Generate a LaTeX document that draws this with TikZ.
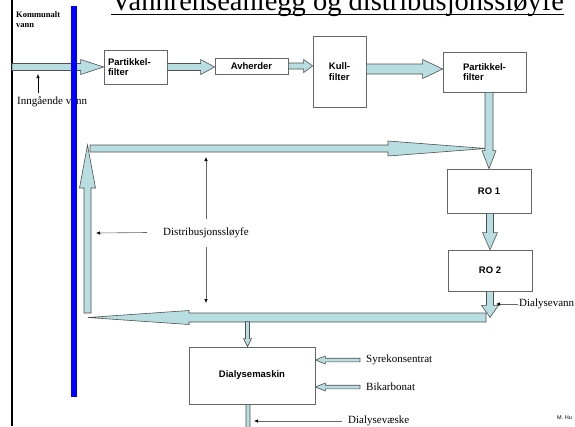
\documentclass[tikz,border=0pt]{standalone}
\usepackage{fontspec}
\setmainfont{Liberation Serif}
\setsansfont{Liberation Sans}
\usetikzlibrary{arrows.meta,calc}

\definecolor{pipeblue}{RGB}{185,222,225}
\definecolor{pipeline}{RGB}{80,80,80}

\tikzset{
  box/.style={draw=black!60,line width=0.7pt,fill=white,inner sep=0pt,
    font=\sffamily\bfseries\fontsize{9.5}{10.5}\selectfont,align=left},
  pipe/.style={fill=pipeblue,draw=pipeline,line width=0.6pt},
  lbl/.style={draw=black!60,line width=0.6pt,-{Latex[length=4pt,width=3.5pt,color=black]}},
  txt/.style={inner sep=0pt,font=\fontsize{11}{12}\selectfont}
}

% block arrow: from, to, half band, half head, head length
\newcommand{\pipearrow}[5]{%
  \coordinate (h) at ($(#2)!#5!(#1)$);
  \filldraw[pipe] ($(#1)!#3!90:(#2)$) -- ($(h)!#3!-90:(#1)$) -- ($(h)!#4!-90:(#1)$)
    -- (#2) -- ($(h)!#4!90:(#1)$) -- ($(h)!#3!90:(#1)$) -- ($(#1)!#3!-90:(#2)$) -- cycle;
}

\begin{document}
\begin{tikzpicture}[x=1pt,y=-1pt]
\useasboundingbox (0,0) rectangle (575,426);
\clip (0,0) rectangle (575,426);

\node[anchor=base west,inner sep=0pt,font=\fontsize{28.5}{30}\selectfont] (title) at (111,10) {Vannrenseanlegg og distribusjonssløyfe};
\draw[line width=1.2pt] ([yshift=-4.5pt]title.base west) -- ([yshift=-4.5pt]title.base east);

\draw[line width=2pt] (12,0) -- (12,426);

\node[anchor=north west,inner sep=0pt,align=left,font=\bfseries\fontsize{8.5}{10}\selectfont] (kom) at (16,11) {Kommunalt\\vann};

% boxes
\node[box,minimum width=63pt,minimum height=34pt,text width=55pt] (pfA) at (135.5,67) {Partikkel-\\filter};
\node[box,minimum width=73pt,minimum height=16pt] (avh) at (251.5,66) {Avherder};
\node[box,minimum width=53pt,minimum height=71pt] (kull) at (339.5,71.5) {Kull-\\filter};
\node[box,minimum width=83pt,minimum height=40pt] (pfB) at (484.5,72) {Partikkel-\\filter};
\node[box,minimum width=84pt,minimum height=44pt] (ro1) at (489,191) {RO 1};
\node[box,minimum width=84pt,minimum height=41pt] (ro2) at (490,270.5) {RO 2};
\node[box,minimum width=126pt,minimum height=57pt] (dm) at (252,375.5) {Dialysemaskin};

% treatment line
\coordinate (inA) at (12,67);
\pipearrow{inA}{pfA.west}{3.5pt}{7.5pt}{23pt}
\coordinate (avhIn) at (pfA.east -| avh.west);
\pipearrow{pfA.east}{avhIn}{3.5pt}{7.5pt}{14pt}
\coordinate (kullIn) at (avh.east -| kull.west);
\pipearrow{avh.east}{kullIn}{3pt}{6.5pt}{9pt}
\coordinate (kullOut) at ([yshift=2.5pt]kull.east);
\coordinate (pfBIn) at (kullOut -| pfB.west);
\pipearrow{kullOut}{pfBIn}{5pt}{9.5pt}{20pt}

% loop
\coordinate (loopR) at (486,317.5);
\coordinate (loopL) at (88,317.5);
\pipearrow{loopR}{loopL}{4.5pt}{7pt}{101pt}
\coordinate (upA) at (87.5,313);
\coordinate (upB) at (87.5,145);
\pipearrow{upA}{upB}{3.5pt}{8pt}{43pt}
\coordinate (topL) at (90,148.5);
\coordinate (topR) at (486,148.5);
\pipearrow{topL}{topR}{3.5pt}{7.5pt}{98pt}

\coordinate (pfBOut) at (pfB.south -| ro1.north);
\pipearrow{pfBOut}{ro1.north}{4pt}{7pt}{18pt}
\coordinate (ro2In) at (ro1.south -| ro2.north);
\pipearrow{ro2In}{ro2.north}{3.5pt}{7.5pt}{17pt}
\coordinate (dvTip) at ([yshift=-26pt]ro2.south);
\pipearrow{ro2.south}{dvTip}{3.5pt}{8.5pt}{12pt}

% dialysis machine
\coordinate (dmIn) at ([xshift=-4.5pt]dm.north);
\coordinate (dmTop) at ([yshift=25pt]dmIn);
\pipearrow{dmTop}{dmIn}{2pt}{4pt}{8pt}
\coordinate (dmOut) at ([xshift=-4pt]dm.south);
\coordinate (dmEnd) at ([yshift=-40pt]dmOut);
\pipearrow{dmOut}{dmEnd}{2pt}{4pt}{8pt}

\node[txt,anchor=west] (syre) at (366,360) {Syrekonsentrat};
\coordinate (syA) at ([xshift=-6pt]syre.west);
\coordinate (syB) at (dm.east |- syA);
\pipearrow{syA}{syB}{1.8pt}{4pt}{10pt}
\node[txt,anchor=west] (bik) at (366,387) {Bikarbonat};
\coordinate (bikA) at ([xshift=-6pt]bik.west);
\coordinate (bikB) at (dm.east |- bikA);
\pipearrow{bikA}{bikB}{1.8pt}{4pt}{10pt}

% labels
\node[txt,anchor=west] (dvann) at (519,304) {Dialysevann};
\coordinate (dvA) at (496,304);
\draw[lbl] ([xshift=-1pt]dvann.west) -- (dvA);

\node[txt] (dist) at (206,232.5) {Distribusjonssløyfe};
\coordinate (distT) at (206,157);
\coordinate (distB) at (206,303);
\coordinate (distL) at (96,233);
\draw[lbl] ([yshift=8pt]dist.north) -- (distT);
\draw[lbl] ([yshift=-9pt]dist.south) -- (distB);
\draw[lbl] ([xshift=-16pt]dist.west) -- (distL);

\node[txt,anchor=west] (inn) at (17,102) {Inngående vann};
\coordinate (innA) at (38,74);
\coordinate (innB) at (38,93);
\draw[lbl,draw=black] (innB) -- (innA);

\node[txt,anchor=west] (dvs) at (348,421) {Dialysevæske};
\coordinate (dvsA) at (254,421);
\draw[lbl] ([xshift=-6pt]dvs.west) -- (dvsA);

\node[anchor=west,inner sep=0pt,font=\sffamily\fontsize{5.5}{6}\selectfont] (mhu) at (557,418) {M. Hu};

\draw[line width=5.5pt,blue] (74,6) -- (74,397);

\end{tikzpicture}
\end{document}
